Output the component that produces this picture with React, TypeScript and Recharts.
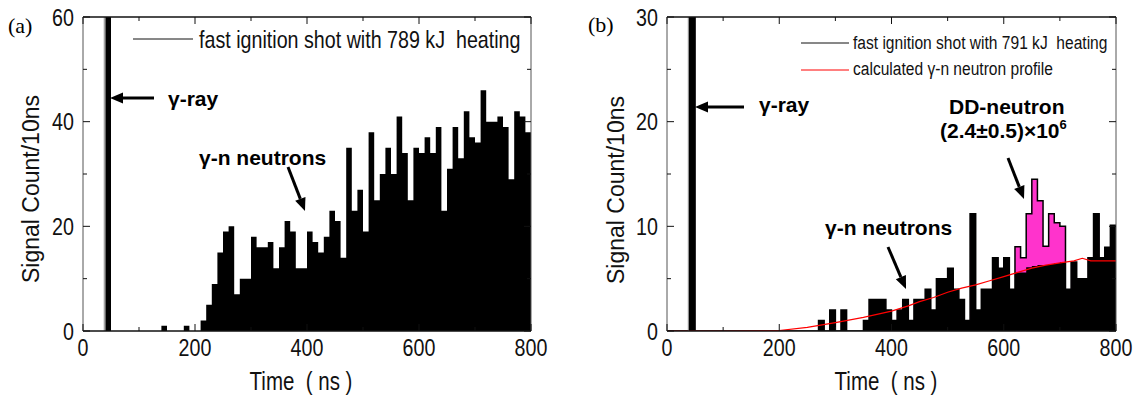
import React from 'react'
import { ComposedChart, Area, Line, XAxis, YAxis, ReferenceLine } from 'recharts'

// counts per 10 ns bin, bins start at 0, 10, ... 790 ns
const BIN = 10

// (a) 789 kJ shot; bin 40 is the gamma flash (goes off scale)
const countsA = [
  0, 0, 0, 0, 70, 0, 0, 0, 0, 0,
  0, 0, 0, 0, 1, 0, 0, 0, 1, 0,
  0, 2, 5, 9, 15, 19, 20, 7, 10, 10,
  18, 16, 16, 17, 12, 16, 21, 19, 12, 12,
  19, 17, 15, 18, 23, 21, 14, 35, 23, 27,
  19, 38, 25, 30, 35, 30, 41, 34, 25, 35,
  34, 37, 34, 39, 23, 31, 39, 33, 42, 37,
  36, 46, 40, 40, 41, 39, 29, 42, 41, 38,
]

// (b) 791 kJ shot
const countsB = [
  0, 0, 0, 0, 35, 0, 0, 0, 0, 0,
  0, 0, 0, 0, 0, 0, 0, 0, 0, 0,
  0, 0, 0, 0, 0, 0, 0, 1, 0, 2,
  0, 2, 0, 0, 0, 1, 3, 3, 3, 2,
  1, 2, 3, 1, 3, 3, 4, 2, 5, 5,
  6, 4, 3, 1, 11.2, 2, 4, 4, 7, 6,
  7, 4, 8.05, 7, 11.2, 14.5, 12.45, 8.1, 11.2, 10.35,
  10, 4, 6.6, 5, 5, 7, 11.2, 7, 8, 10.1,
]

// DD-neutron window: bins 620..700, gamma-n part underneath the pink excess
const ddStart = 620
const ddBase = [5.6, 5.6, 6.1, 6.2, 6.3, 6.3, 6.4, 6.5, 6.6]

// calculated gamma-n neutron profile (red)
const profileT = [0, 100, 200, 250, 300, 350, 400, 430, 450, 475, 500, 525, 550, 575, 600, 625, 650, 675, 700, 725, 740, 755, 775, 800]
const profileV = [0, 0, 0.05, 0.35, 0.8, 1.3, 1.9, 2.4, 2.8, 3.2, 3.7, 4.1, 4.4, 4.8, 5.2, 5.6, 6.0, 6.3, 6.5, 6.7, 6.95, 6.7, 6.7, 6.7]

const xTicks = [0, 100, 200, 300, 400, 500, 600, 700, 800]
const yTicksA = [0, 10, 20, 30, 40, 50, 60]
const yTicksB = [0, 5, 10, 15, 20, 25, 30]
const gammaEdge = 38

const SANS = "'Liberation Sans', Arial, sans-serif"
const SQUEEZE = 0.82 // original figure uses a narrow face

const toRows = (vals: number[]) => {
  const rows = vals.map((v, i) => ({ t: i * BIN, v }))
  rows.push({ t: vals.length * BIN, v: vals[vals.length - 1] })
  return rows
}

const dataA = toRows(countsA)
const dataB = countsB.map((v, i) => {
  const t = i * BIN
  const k = (t - ddStart) / BIN
  const blk = k >= 0 && k < ddBase.length ? ddBase[k] : v
  return { t, tot: v, blk }
})
dataB.push({ t: 800, tot: countsB[countsB.length - 1], blk: countsB[countsB.length - 1] })
const profile = profileT.map((t, i) => ({ t, c: profileV[i] }))

const PLOT_H = 314

function NText({ x, y, size, anchor = 'start', children, fill = '#111' }: any) {
  return (
    <text transform={`translate(${x},${y}) scale(${SQUEEZE},1)`} textAnchor={anchor}
      fontFamily={SANS} fontSize={size} fill={fill} style={{ whiteSpace: 'pre' }}>
      {children}
    </text>
  )
}

function makeXTick(plotH: number) {
  return (p: any) => {
    const v = p.payload.value
    const major = v % 200 === 0
    const len = major ? 7 : 4
    const top = p.y - plotH
    return (
      <g>
        <line x1={p.x} x2={p.x} y1={p.y} y2={p.y - len} stroke="#111" strokeWidth={1} />
        <line x1={p.x} x2={p.x} y1={top} y2={top + len} stroke="#111" strokeWidth={1} />
        {major && <NText x={p.x} y={p.y + 24.5} size={24} anchor="middle">{String(v)}</NText>}
      </g>
    )
  }
}

function makeYTick(plotW: number, labelStep: number) {
  return (p: any) => {
    const v = p.payload.value
    const major = v % labelStep === 0
    const len = major ? 7 : 4
    const right = p.x + plotW
    return (
      <g>
        <line x1={p.x} x2={p.x + len} y1={p.y} y2={p.y} stroke="#111" strokeWidth={1} />
        <line x1={right} x2={right - len} y1={p.y} y2={p.y} stroke="#111" strokeWidth={1} />
        {major && <NText x={p.x - 9} y={p.y + 8.6} size={24} anchor="end">{String(v)}</NText>}
      </g>
    )
  }
}

function Arrow({ x1, y1, x2, y2 }: { x1: number; y1: number; x2: number; y2: number }) {
  const a = Math.atan2(y2 - y1, x2 - x1)
  const L = 13
  const W = 5.5
  const bx = x2 - L * Math.cos(a)
  const by = y2 - L * Math.sin(a)
  const px = -Math.sin(a) * W
  const py = Math.cos(a) * W
  return (
    <g>
      <line x1={x1} y1={y1} x2={bx} y2={by} stroke="#000" strokeWidth={3} />
      <polygon points={`${x2},${y2} ${bx + px},${by + py} ${bx - px},${by - py}`} fill="#000" />
    </g>
  )
}

function PanelA() {
  return (
    <ComposedChart width={560} height={400} data={dataA} margin={{ top: 17, right: 29, bottom: 29, left: 43 }}>
      <XAxis dataKey="t" type="number" domain={[0, 800]} ticks={xTicks} allowDataOverflow
        height={40} tickSize={0} tickMargin={0} tickLine={false} interval={0}
        axisLine={{ stroke: '#111', strokeWidth: 1.5 }} tick={makeXTick(PLOT_H)} />
      <YAxis type="number" domain={[0, 60]} ticks={yTicksA} allowDataOverflow
        width={40} tickSize={0} tickMargin={0} tickLine={false} interval={0}
        axisLine={{ stroke: '#555', strokeWidth: 1 }} tick={makeYTick(448, 20)} />
      <Area type="stepAfter" dataKey="v" fill="#000" fillOpacity={1} stroke="none" isAnimationActive={false} />
      <ReferenceLine x={gammaEdge} stroke="#888" strokeWidth={1} />
      <ReferenceLine y={60} stroke="#111" strokeWidth={1.5} />
      <ReferenceLine x={800} stroke="#555" strokeWidth={1} />
    </ComposedChart>
  )
}

function PanelB() {
  return (
    <ComposedChart width={568} height={400} data={dataB} margin={{ top: 17, right: 20, bottom: 29, left: 59 }}>
      <XAxis dataKey="t" type="number" domain={[0, 800]} ticks={xTicks} allowDataOverflow
        height={40} tickSize={0} tickMargin={0} tickLine={false} interval={0}
        axisLine={{ stroke: '#111', strokeWidth: 1.5 }} tick={makeXTick(PLOT_H)} />
      <YAxis type="number" domain={[0, 30]} ticks={yTicksB} allowDataOverflow
        width={40} tickSize={0} tickMargin={0} tickLine={false} interval={0}
        axisLine={{ stroke: '#555', strokeWidth: 1 }} tick={makeYTick(449, 10)} />
      <Area type="stepAfter" dataKey="tot" fill="#ff33cc" fillOpacity={1} stroke="#000" strokeWidth={1.5} isAnimationActive={false} />
      <Area type="stepAfter" dataKey="blk" fill="#000" fillOpacity={1} stroke="none" isAnimationActive={false} />
      <Line data={profile} dataKey="c" type="linear" stroke="#ff0000" strokeWidth={1.2} dot={false} isAnimationActive={false} />
      <ReferenceLine x={gammaEdge} stroke="#888" strokeWidth={1} />
      <ReferenceLine y={30} stroke="#111" strokeWidth={1.5} />
      <ReferenceLine x={800} stroke="#555" strokeWidth={1} />
    </ComposedChart>
  )
}

export default function App() {
  return (
    <div style={{ position: 'absolute', left: 0, top: 0, width: 1136, height: 400, background: '#fff' }}>
      <div style={{ position: 'absolute', left: 0, top: 0 }}>
        <PanelA />
      </div>
      <div style={{ position: 'absolute', left: 568, top: 0 }}>
        <PanelB />
      </div>
      <svg width={1136} height={400} style={{ position: 'absolute', left: 0, top: 0, pointerEvents: 'none' }}>
        {/* panel labels */}
        <text x={8} y={33} fontFamily="'Liberation Serif', 'Times New Roman', serif" fontSize={22}>(a)</text>
        <text x={588} y={32} fontFamily="'Liberation Serif', 'Times New Roman', serif" fontSize={22}>(b)</text>

        {/* axis titles */}
        <NText x={301} y={390} size={25} anchor="middle">Time  ( ns )</NText>
        <NText x={886} y={390} size={25} anchor="middle">Time  ( ns )</NText>
        <text transform="translate(39,189) rotate(-90)" textAnchor="middle" fontFamily={SANS} fontSize={23} fill="#111">Signal Count/10ns</text>
        <text transform="translate(624,190) rotate(-90)" textAnchor="middle" fontFamily={SANS} fontSize={23} fill="#111">Signal Count/10ns</text>

        {/* legend (a) */}
        <line x1={133} x2={193} y1={39} y2={39} stroke="#111" strokeWidth={1} />
        <NText x={199} y={48} size={24}>fast ignition shot with 789 kJ  heating</NText>

        {/* legend (b) */}
        <line x1={801} x2={849} y1={43} y2={43} stroke="#111" strokeWidth={1} />
        <NText x={853} y={49} size={19}>fast ignition shot with 791 kJ  heating</NText>
        <line x1={801} x2={849} y1={70} y2={70} stroke="#ff0000" strokeWidth={1} />
        <NText x={853} y={75} size={19}>calculated γ-n neutron profile</NText>

        {/* annotations (a) */}
        <Arrow x1={154} y1={98} x2={110} y2={98} />
        <text x={168} y={106} fontFamily={SANS} fontWeight="bold" fontSize={21}>γ-ray</text>
        <text x={199} y={165} fontFamily={SANS} fontWeight="bold" fontSize={21}>γ-n neutrons</text>
        <Arrow x1={288} y1={167} x2={305} y2={211} />

        {/* annotations (b) */}
        <Arrow x1={744} y1={107} x2={695} y2={107} />
        <text x={759} y={112} fontFamily={SANS} fontWeight="bold" fontSize={21}>γ-ray</text>
        <text x={949} y={114} fontFamily={SANS} fontWeight="bold" fontSize={21}>DD-neutron</text>
        <text x={940} y={138} fontFamily={SANS} fontWeight="bold" fontSize={21}>
          (2.4±0.5)×10<tspan fontSize={13} dy={-9}>6</tspan>
        </text>
        <Arrow x1={1008} y1={158} x2={1024} y2={199} />
        <text x={825} y={235} fontFamily={SANS} fontWeight="bold" fontSize={21}>γ-n neutrons</text>
        <Arrow x1={888} y1={247} x2={906} y2={289} />
      </svg>
    </div>
  )
}
